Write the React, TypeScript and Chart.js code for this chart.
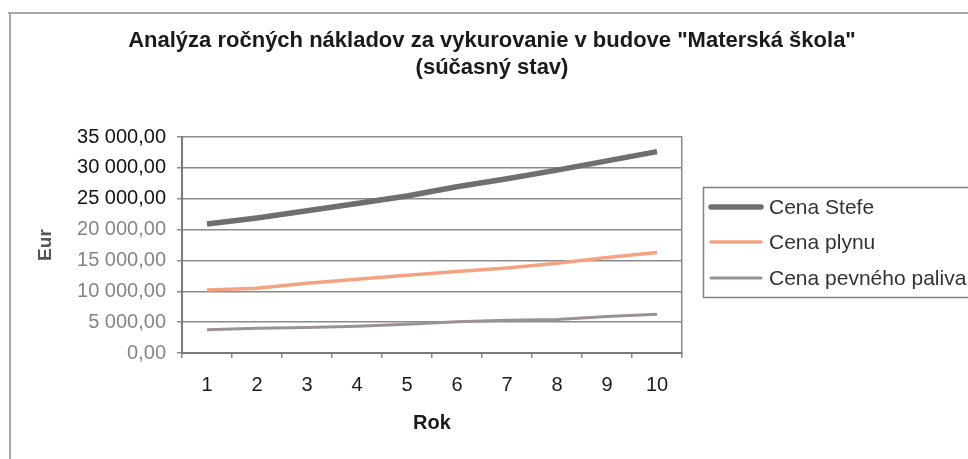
import React, { useEffect, useRef } from "react";
import { Chart, registerables } from "chart.js";

Chart.register(...registerables);

const roky = ["1", "2", "3", "4", "5", "6", "7", "8", "9", "10"];
const cenaStefe = [20900, 21900, 23050, 24250, 25450, 26950, 28250, 29650, 31150, 32650];
const cenaPlynu = [10200, 10500, 11300, 11950, 12600, 13200, 13800, 14550, 15500, 16300];
const cenaPevnehoPaliva = [3750, 4000, 4150, 4350, 4650, 5050, 5300, 5450, 5900, 6300];
const nazvySerii = ["Cena Stefe", "Cena plynu", "Cena pevného paliva"];
const titulok = ["Analýza ročných nákladov za vykurovanie v budove \"Materská škola\"", "(súčasný stav)"];

const FONT = "'Liberation Sans', Arial, sans-serif";

function formatEur(v: number): string {
  const fixed = Math.abs(v).toFixed(2);
  const [intPart, dec] = fixed.split(".");
  const withSpaces = intPart.replace(/\B(?=(\d{3})+(?!\d))/g, " ");
  return (v < 0 ? "-" : "") + withSpaces + "," + dec;
}

const framePlugin = {
  id: "frame",
  beforeDraw(chart: any) {
    const ctx = chart.ctx;
    ctx.save();
    ctx.fillStyle = "#ffffff";
    ctx.fillRect(0, 0, chart.width, chart.height);
    ctx.strokeStyle = "#a8a8a8";
    ctx.lineWidth = 2;
    ctx.beginPath();
    ctx.moveTo(8, 13);
    ctx.lineTo(chart.width, 13);
    ctx.moveTo(10, 13);
    ctx.lineTo(10, chart.height);
    ctx.stroke();
    ctx.restore();
  },
};

const legendPlugin = {
  id: "boxLegend",
  afterDraw(chart: any) {
    const ctx = chart.ctx;
    const x0 = 703.5;
    const y0 = 187.5;
    const w = 300;
    const h = 110;
    ctx.save();
    ctx.strokeStyle = "#808080";
    ctx.lineWidth = 1.5;
    ctx.strokeRect(x0, y0, w, h);
    const rows = [207, 242, 278];
    chart.data.datasets.forEach((ds: any, i: number) => {
      const y = rows[i];
      ctx.strokeStyle = ds.borderColor;
      ctx.lineWidth = ds.borderWidth;
      ctx.lineCap = "round";
      ctx.beginPath();
      ctx.moveTo(711, y);
      ctx.lineTo(761, y);
      ctx.stroke();
      ctx.fillStyle = "#333333";
      ctx.font = `21px ${FONT}`;
      ctx.textBaseline = "middle";
      ctx.textAlign = "left";
      ctx.fillText(ds.label, 769, y + 1);
    });
    ctx.restore();
  },
};

export default function App() {
  const ref = useRef<HTMLCanvasElement | null>(null);

  useEffect(() => {
    if (!ref.current) return;
    const chart = new Chart(ref.current, {
      type: "line",
      data: {
        labels: roky,
        datasets: [
          {
            label: nazvySerii[0],
            data: cenaStefe,
            borderColor: "#6f6f6f",
            borderWidth: 5.5,
            pointRadius: 0,
            tension: 0,
            yAxisID: "y",
          },
          {
            label: nazvySerii[1],
            data: cenaPlynu,
            borderColor: "#f5a282",
            borderWidth: 3.5,
            pointRadius: 0,
            tension: 0,
            yAxisID: "y",
          },
          {
            label: nazvySerii[2],
            data: cenaPevnehoPaliva,
            borderColor: "#9c9294",
            borderWidth: 3,
            pointRadius: 0,
            tension: 0,
            yAxisID: "y",
          },
        ],
      },
      options: {
        animation: false,
        responsive: false,
        maintainAspectRatio: false,
        layout: { padding: { left: 36, right: 20, top: 0, bottom: 0 } },
        plugins: {
          legend: { display: false },
          tooltip: { enabled: false },
          title: {
            display: true,
            text: titulok,
            color: "#1a1a1a",
            font: { family: FONT, size: 22, weight: "bold", lineHeight: 1.23 },
            padding: { top: 27.5, bottom: 55.5 },
          },
        },
        scales: {
          x: {
            type: "category",
            offset: true,
            grid: {
              display: true,
              drawOnChartArea: false,
              drawTicks: true,
              tickLength: 5,
              color: "#8a8a8a",
              lineWidth: 1.5,
              offset: true,
            },
            border: { display: true, color: "#7a7a7a", width: 2 },
            ticks: {
              color: "#1a1a1a",
              font: { family: FONT, size: 20 },
              padding: 15,
              maxRotation: 0,
              autoSkip: false,
            },
            title: {
              display: true,
              text: "Rok",
              color: "#1a1a1a",
              font: { family: FONT, size: 20, weight: "bold", lineHeight: 1.2 },
              padding: { top: 0, bottom: 24 },
            },
            afterFit(scale: any) {
              scale.height = 106;
            },
          },
          y: {
            type: "linear",
            position: "left",
            min: 0,
            max: 35000,
            grid: {
              display: true,
              drawOnChartArea: true,
              drawTicks: true,
              tickLength: 5,
              color: "#8a8a8a",
              lineWidth: 1.5,
            },
            border: { display: true, color: "#7a7a7a", width: 2 },
            ticks: {
              stepSize: 5000,
              padding: 11,
              font: { family: FONT, size: 20 },
              color: (c: any) => (c.tick && c.tick.value >= 25000 ? "#111111" : "#858585"),
              callback: (v: any) => formatEur(Number(v)),
            },
            title: {
              display: true,
              text: "Eur",
              color: "#555555",
              font: { family: FONT, size: 19, weight: "bold", lineHeight: 1.0 },
              padding: { top: 0, bottom: 0 },
            },
            afterFit(scale: any) {
              scale.width = 146;
            },
          },
          y2: {
            type: "linear",
            position: "right",
            display: true,
            grid: { display: false, drawTicks: false },
            border: { display: true, color: "#8a8a8a", width: 1.5 },
            ticks: { display: false },
            afterFit(scale: any) {
              scale.width = 266;
            },
          },
        },
      },
      plugins: [framePlugin, legendPlugin],
    });
    return () => chart.destroy();
  }, []);

  return (
    <div style={{ position: "fixed", left: 0, top: 0, width: 968, height: 459, background: "#fff" }}>
      <canvas ref={ref} width={968} height={459} style={{ width: 968, height: 459, display: "block" }} />
    </div>
  );
}
